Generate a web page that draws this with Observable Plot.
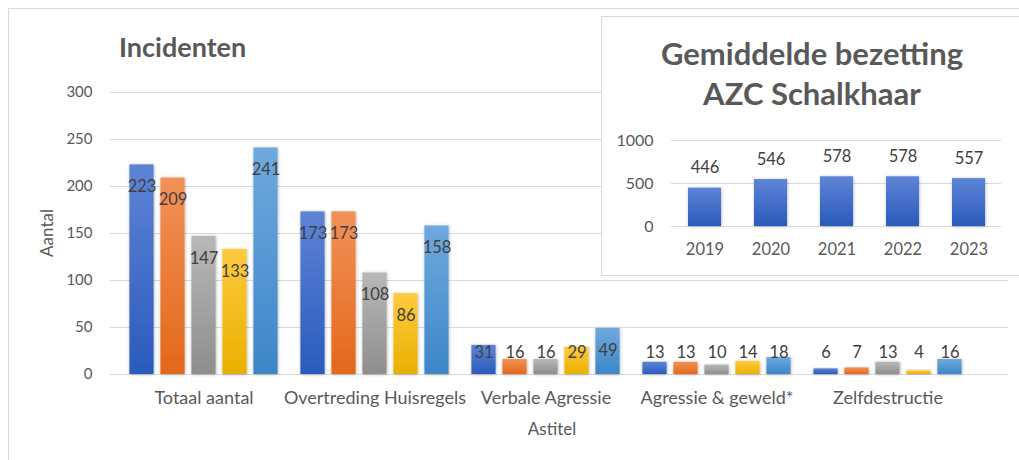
<!DOCTYPE html>
<html>
<head>
<meta charset="utf-8">
<script src="https://cdn.jsdelivr.net/npm/d3@7"></script>
<script src="https://cdn.jsdelivr.net/npm/@observablehq/plot@0.6"></script>
<style>
  html, body { margin: 0; padding: 0; background: #fff; }
  #wrap { position: relative; width: 1019px; height: 460px; overflow: hidden; font-family: Lato, "Open Sans", sans-serif; }
  #outer { position: absolute; left: 8px; top: 8px; width: 1100px; height: 600px; border: 1px solid #d9d9d9; box-sizing: border-box; }
  #main { position: absolute; left: 0; top: 0; }
  #title { position: absolute; left: 119px; top: 32px; font: bold 27px Lato, sans-serif; color: #595959; line-height: 30px; white-space: nowrap; }
  #ylab { position: absolute; left: 46px; top: 233px; transform: translate(-50%, -50%) rotate(-90deg); font: 17px Lato, sans-serif; color: #595959; white-space: nowrap; }
  #xlab { position: absolute; left: 552px; top: 428px; transform: translate(-50%, -50%); font: 17px Lato, sans-serif; color: #595959; white-space: nowrap; }
  #inset { position: absolute; left: 601px; top: 16px; width: 430px; height: 260px; background: #fff; border: 1px solid #d9d9d9; box-sizing: border-box; }
  #insetTitle { position: absolute; left: 0; width: 420px; top: 16px; text-align: center; font: bold 31px Lato, sans-serif; color: #595959; line-height: 40px; white-space: nowrap; }
  #insetPlot { position: absolute; left: -1px; top: -1px; }
</style>
</head>
<body>
<svg width="0" height="0" style="position:absolute">
  <defs>
    <linearGradient id="gBlue" x1="0" y1="0" x2="0" y2="1"><stop offset="0" stop-color="#5e84d6"/><stop offset="1" stop-color="#2a5bbc"/></linearGradient>
    <linearGradient id="gOrange" x1="0" y1="0" x2="0" y2="1"><stop offset="0" stop-color="#f39159"/><stop offset="1" stop-color="#e2681a"/></linearGradient>
    <linearGradient id="gGray" x1="0" y1="0" x2="0" y2="1"><stop offset="0" stop-color="#b8b8b8"/><stop offset="1" stop-color="#8e8e8e"/></linearGradient>
    <linearGradient id="gGold" x1="0" y1="0" x2="0" y2="1"><stop offset="0" stop-color="#ffc93f"/><stop offset="1" stop-color="#e9b100"/></linearGradient>
    <linearGradient id="gLight" x1="0" y1="0" x2="0" y2="1"><stop offset="0" stop-color="#6fa9de"/><stop offset="1" stop-color="#3d86c8"/></linearGradient>
    <filter id="shadow" x="-30%" y="-10%" width="160%" height="130%">
      <feDropShadow dx="0.5" dy="0.5" stdDeviation="1.5" flood-color="#000" flood-opacity="0.3"/>
    </filter>
  </defs>
</svg>
<div id="wrap">
  <div id="outer"></div>
  <div id="main"></div>
  <div id="title">Incidenten</div>
  <div id="ylab">Aantal</div>
  <div id="xlab">Astitel</div>
  <div id="inset">
    <div id="insetPlot"></div>
    <div id="insetTitle">Gemiddelde bezetting<br>AZC Schalkhaar</div>
  </div>
</div>
<script>
// ---- Data ----
const categories = ["Totaal aantal", "Overtreding Huisregels", "Verbale Agressie", "Agressie & geweld*", "Zelfdestructie"];
const series = ["2019", "2020", "2021", "2022", "2023"];
const v2019 = [223, 173, 31, 13, 6];
const v2020 = [209, 173, 16, 13, 7];
const v2021 = [147, 108, 16, 10, 13];
const v2022 = [133, 86, 29, 14, 4];
const v2023 = [241, 158, 49, 18, 16];
const yTicks = [0, 50, 100, 150, 200, 250, 300];

const insetYears = ["2019", "2020", "2021", "2022", "2023"];
const occupancy = [446, 546, 578, 578, 557];
const insetTicks = [0, 500, 1000];

// ---- Styling ----
const fills = ["url(#gBlue)", "url(#gOrange)", "url(#gGray)", "url(#gGold)", "url(#gLight)"];
const seriesValues = [v2019, v2020, v2021, v2022, v2023];

const xRange = [116, 975];
const step = (xRange[1] - xRange[0]) / categories.length;
const barW = 25, gap = 31;
const inset = (step - barW) / 2;

const pxPerUnit = (374 - 92) / 300;
const labelOff = 22 / pxPerUnit;

const marks = [];
marks.push(Plot.ruleY(yTicks, {y: d => d, stroke: "#d9d9d9", strokeWidth: 1}));
seriesValues.forEach((vals, i) => {
  const data = categories.map((c, j) => ({cat: c, series: series[i], value: vals[j]}));
  const dx = (i - 2) * gap;
  marks.push(Plot.barY(data, {x: "cat", y: "value", fill: fills[i], dx, insetLeft: inset, insetRight: inset}));
});
seriesValues.forEach((vals, i) => {
  const data = categories.map((c, j) => ({cat: c, series: series[i], value: vals[j]}));
  const dx = (i - 2) * gap;
  marks.push(Plot.text(data, {x: "cat", y: d => Math.max(d.value - labelOff, labelOff), text: d => String(d.value), dx, fill: "#404040", fontSize: 16.5, fontFamily: "Lato"}));
});
marks.push(Plot.text(categories, {x: d => d, frameAnchor: "bottom", lineAnchor: "middle", dy: 24, text: d => d, fill: "#595959", fontSize: 18, fontFamily: "Lato"}));

const main = Plot.plot({
  width: 1019, height: 460,
  marginLeft: 110, marginRight: 11, marginTop: 92, marginBottom: 86,
  style: {background: "transparent", fontFamily: "Lato", fontSize: "15px", color: "#595959", overflow: "visible"},
  x: {type: "band", domain: categories, range: xRange, padding: 0, axis: null},
  y: {domain: [0, 300], ticks: yTicks, tickSize: 0, tickPadding: 18, label: null, tickFormat: d => String(d)},
  marks
});
main.querySelectorAll("rect").forEach(r => r.setAttribute("filter", "url(#shadow)"));
document.getElementById("main").appendChild(main);

// ---- Inset ----
const insetData = insetYears.map((y, i) => ({year: y, value: occupancy[i]}));
const insetPlot = Plot.plot({
  width: 420, height: 260,
  marginLeft: 70, marginRight: 20, marginTop: 124, marginBottom: 50,
  style: {background: "transparent", fontFamily: "Lato", fontSize: "16px", color: "#595959", overflow: "visible"},
  x: {type: "band", domain: insetYears, paddingInner: 0.5, paddingOuter: 0.25, axis: null},
  y: {domain: [0, 1000], ticks: insetTicks, tickSize: 0, tickPadding: 18, label: null, tickFormat: d => String(d)},
  marks: [
    Plot.ruleY(insetTicks, {y: d => d, stroke: "#d9d9d9"}),
    Plot.barY(insetData, {x: "year", y: "value", fill: "url(#gBlue)"}),
    Plot.text(insetData, {x: "year", y: "value", text: d => String(d.value), dy: -20, fill: "#404040", fontSize: 16.5, fontFamily: "Lato"}),
    Plot.text(insetData, {x: "year", frameAnchor: "bottom", lineAnchor: "middle", dy: 23, text: "year", fill: "#595959", fontSize: 16.5, fontFamily: "Lato"})
  ]
});
insetPlot.querySelectorAll("rect").forEach(r => r.setAttribute("filter", "url(#shadow)"));
document.getElementById("insetPlot").appendChild(insetPlot);
</script>
</body>
</html>
